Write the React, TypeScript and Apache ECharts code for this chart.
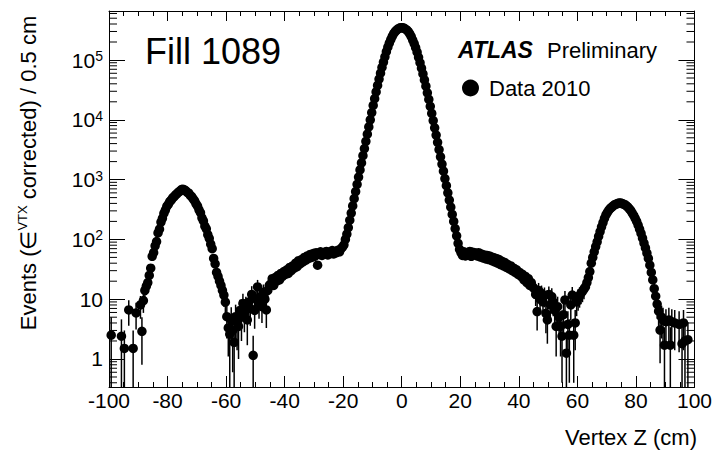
import React, { useEffect, useRef } from 'react';
import * as echarts from 'echarts';

const FONT = '"Liberation Sans", Arial, Helvetica, sans-serif';
const Y_MIN = 0.34;
const Y_MAX = 6.6e5;
const BIN = 0.5;

// Low-count bins: [vertex z (cm), events, error]
const leftTail: number[][] = [
  [-99.25, 2.5, 2.5], [-95.75, 2.4, 2.2], [-94.75, 1.5, 1.5], [-93.25, 6.6, 3.0],
  [-91.75, 1.5, 1.5], [-90.75, 5.9, 2.8], [-89.25, 8.0, 3.3], [-88.75, 2.9, 2.1],
  [-88.25, 9.5, 3.6], [-87.75, 14, 4.5], [-87.25, 16.5, 4.8], [-86.75, 19, 5.2],
];

// Smooth bins, 0.5 cm apart, starting at the given z
const leftPeakStart = -86.25;
const leftPeak = [
  25, 33, 52, 60, 78, 92, 128, 148, 195, 225,
  272, 310, 358, 385, 430, 452, 495, 520, 555, 585,
  620, 642, 680, 692, 672, 650, 612, 592, 545, 518,
  475, 440, 392, 360, 312, 279, 230, 204, 166, 150,
  120, 104, 83, 70, 48, 39, 28, 24, 20,
];

const leftDip: number[][] = [
  [-61.75, 17, 5.0], [-61.25, 14, 4.5], [-60.75, 11.7, 4.2], [-60.25, 8.9, 3.7],
  [-59.75, 5.1, 2.9], [-59.25, 3.3, 2.2], [-58.75, 2.6, 2.3], [-58.25, 4.5, 2.8],
  [-57.75, 3.0, 2.4], [-57.25, 1.9, 1.7], [-56.75, 5.1, 3.0], [-56.25, 4.0, 2.6],
  [-55.75, 3.5, 2.5], [-55.25, 6.5, 3.3], [-54.75, 5.0, 3.0], [-54.25, 8.5, 3.8],
  [-53.75, 6.0, 3.2], [-53.25, 7.5, 3.5], [-52.75, 4.5, 2.8], [-52.25, 9.0, 3.9],
  [-51.75, 7.0, 3.4], [-51.25, 12, 4.5], [-50.75, 1.15, 1.3], [-50.25, 6.5, 3.3],
  [-49.75, 10, 4.1], [-49.25, 16, 5.0], [-48.75, 8.5, 3.8], [-48.25, 11, 4.3],
  [-47.75, 7.5, 3.5], [-47.25, 13, 4.6], [-46.75, 10, 4.0], [-46.25, 6.6, 3.3],
  [-45.75, 14, 4.8], [-45.25, 17, 5.0],
];

const leftShoulderStart = -44.75;
const leftShoulder = [
  18, 22, 17, 23, 20, 25, 21, 27, 24, 29,
  26, 31, 27, 34, 30, 36, 33, 40, 35, 44,
  39, 46, 42, 50, 45, 53, 48, 56, 50, 58,
  52, 60, 37, 56, 62, 54, 60, 57, 63, 55,
  61, 58, 65, 57, 63, 60, 66, 62, 70, 74,
];

const coreStart = -19.75;
const core = [
  81, 100, 123, 158, 209, 275, 363, 479, 631, 832,
  1100, 1450, 1900, 2510, 3310, 4370, 5750, 7590, 10000, 13200,
  17400, 22600, 29200, 37600, 47900, 60300, 75000, 92300, 113000, 138000,
  164000, 191000, 219000, 248000, 275000, 299000, 316000, 331000, 343000, 347000,
  346000, 342000, 330000, 315000, 297000, 273000, 246000, 216000, 188000, 161000,
  135000, 111000, 90000, 73000, 58600, 46500, 36500, 28300, 21900, 16800,
  12800, 9700, 7350, 5550, 4200, 3180, 2400, 1820, 1380, 1040,
  790, 600, 455, 345, 262, 200, 152, 115, 86, 68,
];

const rightShoulderStart = 20.25;
const rightShoulder = [
  60, 54, 62, 53, 60, 55, 63, 52, 61, 56,
  59, 53, 60, 51, 57, 49, 55, 47, 54, 46,
  52, 44, 50, 42, 48, 40, 46, 38, 43, 36,
  41, 34, 38, 32, 36, 30, 33, 28, 31, 26,
  28, 24, 26, 21, 24, 19, 22, 17, 19, 16,
];

const rightDip: number[][] = [
  [45.25, 15, 4.8], [45.75, 12, 4.3], [46.25, 6.2, 3.2], [46.75, 14, 4.7],
  [47.25, 10, 4.0], [47.75, 12.5, 4.4], [48.25, 9, 3.8], [48.75, 11.5, 4.2],
  [49.25, 5.8, 3.1], [49.75, 4.5, 2.7], [50.25, 12, 4.3], [50.75, 8, 3.6],
  [51.25, 11, 4.2], [51.75, 9, 3.8], [52.25, 6.5, 3.2], [52.75, 3.5, 2.4],
  [53.25, 7.5, 3.5], [53.75, 5.0, 2.9], [54.25, 3.5, 2.4], [54.75, 2.4, 2.0],
  [55.25, 5.5, 3.0], [55.75, 9.7, 4.0], [56.25, 1.25, 1.3], [56.75, 3.8, 2.5],
  [57.25, 2.5, 2.1], [57.75, 8, 3.6], [58.25, 11.7, 4.3], [58.75, 2.5, 2.1],
  [59.25, 4.0, 2.6], [59.75, 9.0, 3.8], [60.25, 10.5, 4.1], [60.75, 11.5, 4.3],
  [61.25, 12.6, 4.4], [61.75, 13.5, 4.6], [62.25, 14.8, 4.8],
];

const rightPeakStart = 62.75;
const rightPeak = [
  16, 19, 23, 29, 40, 50, 62, 76, 91, 112,
  135, 162, 191, 224, 257, 282, 309, 331, 347, 363,
  380, 389, 398, 407, 407, 398, 389, 380, 363, 347,
  324, 302, 275, 251, 224, 200, 174, 148, 126, 105,
  87, 72, 59, 48, 37, 28, 21,
];

const rightTail: number[][] = [
  [86.25, 15, 4.8], [86.75, 11.2, 4.2], [87.25, 8.3, 3.6], [87.75, 6.3, 3.2],
  [88.25, 3.05, 2.2], [88.75, 5.0, 2.8], [89.25, 4.5, 2.7], [89.75, 1.7, 1.7],
  [90.25, 4.2, 2.6], [91.25, 4.5, 2.7], [91.75, 1.7, 1.7], [92.25, 4.2, 2.6],
  [93.25, 4.0, 2.6], [94.75, 3.8, 2.5], [95.75, 1.8, 1.8], [96.25, 4.0, 2.6],
  [96.75, 2.0, 1.9], [97.75, 2.1, 2.0],
];

const seq = (start: number, vals: number[]) => vals.map((v, i) => [start + i * BIN, v]);

export default function App() {
  const ref = useRef<HTMLDivElement>(null);

  useEffect(() => {
    if (!ref.current) return;
    const chart = echarts.init(ref.current, undefined, { renderer: 'svg' });

    const lowBins = [...leftTail, ...leftDip, ...rightDip, ...rightTail];
    const scatterData = [
      ...seq(leftPeakStart, leftPeak),
      ...seq(leftShoulderStart, leftShoulder),
      ...seq(coreStart, core),
      ...seq(rightShoulderStart, rightShoulder),
      ...seq(rightPeakStart, rightPeak),
      ...lowBins.map(([z, v]) => [z, v]),
    ];
    const errData = lowBins.map(([z, v, e]) => [z, Math.max(v - e, Y_MIN), v + e]);

    const minorTickValues: number[][] = [];
    for (let p = -1; p <= 5; p++) {
      for (let m = 2; m <= 9; m++) {
        const v = m * Math.pow(10, p);
        if (v > Y_MIN && v < Y_MAX) minorTickValues.push([0, v]);
      }
    }

    const black = '#000';
    const xAxisCommon = {
      type: 'value',
      min: -100,
      max: 100,
      interval: 20,
      axisLine: { show: true, onZero: false, lineStyle: { color: black, width: 1 } },
      splitLine: { show: false },
      minorSplitLine: { show: false },
    };
    const yAxisCommon = {
      type: 'log',
      logBase: 10,
      min: Y_MIN,
      max: Y_MAX,
      axisLine: { show: true, onZero: false, lineStyle: { color: black, width: 1 } },
      axisTick: { show: true, inside: true, length: 16, lineStyle: { color: black } },
      splitLine: { show: false },
    };

    chart.setOption({
      animation: false,
      backgroundColor: '#fff',
      grid: { left: 109, right: 18, top: 11, bottom: 64 },
      legend: {
        data: ['Data 2010'],
        left: 462,
        top: 77,
        padding: 0,
        icon: 'circle',
        itemWidth: 17,
        itemHeight: 17,
        selectedMode: false,
        itemStyle: { color: black, opacity: 1 },
        textStyle: { fontSize: 22, fontFamily: FONT, color: black, padding: [0, 0, 0, 5] },
      },
      xAxis: [
        {
          ...xAxisCommon,
          position: 'bottom',
          axisTick: { show: true, inside: true, length: 11, lineStyle: { color: black } },
          minorTick: { show: true, splitNumber: 4, length: 5, lineStyle: { color: black } },
          axisLabel: { margin: 3, fontSize: 21, fontFamily: FONT, color: black },
        },
        {
          ...xAxisCommon,
          position: 'top',
          axisTick: { show: true, inside: true, length: 10, lineStyle: { color: black } },
          minorTick: { show: true, splitNumber: 4, length: 5, lineStyle: { color: black } },
          axisLabel: { show: false },
        },
      ],
      yAxis: [
        {
          ...yAxisCommon,
          position: 'left',
          axisLabel: {
            margin: 6,
            formatter: (v: number) => {
              const l = Math.log10(v);
              const p = Math.round(l);
              if (Math.abs(l - p) > 1e-6) return '';
              if (p === 0) return '{b|1}';
              if (p === 1) return '{b|10}';
              return `{b|10}{s|${p}}`;
            },
            rich: {
              b: { fontSize: 21, fontFamily: FONT, color: black, lineHeight: 22 },
              s: { fontSize: 14, fontFamily: FONT, color: black, lineHeight: 14, verticalAlign: 'top' },
            },
          },
        },
        {
          ...yAxisCommon,
          position: 'right',
          axisLabel: { show: false },
        },
      ],
      series: [
        {
          type: 'custom',
          name: 'minor ticks',
          silent: true,
          z: 1,
          data: minorTickValues,
          renderItem: (params: any, api: any) => {
            const y = api.coord([0, api.value(1)])[1];
            const cs = params.coordSys;
            return {
              type: 'group',
              children: [
                { type: 'line', shape: { x1: cs.x, y1: y, x2: cs.x + 8, y2: y }, style: { stroke: black, lineWidth: 1 } },
                { type: 'line', shape: { x1: cs.x + cs.width - 8, y1: y, x2: cs.x + cs.width, y2: y }, style: { stroke: black, lineWidth: 1 } },
              ],
            };
          },
        },
        {
          type: 'custom',
          name: 'errors',
          silent: true,
          z: 2,
          data: errData,
          encode: { x: 0, y: [1, 2] },
          renderItem: (params: any, api: any) => {
            const z = api.value(0);
            const p0 = api.coord([z, api.value(1)]);
            const p1 = api.coord([z, api.value(2)]);
            return {
              type: 'line',
              shape: { x1: p0[0], y1: p0[1], x2: p1[0], y2: p1[1] },
              style: { stroke: black, lineWidth: 1.5 },
            };
          },
        },
        {
          type: 'scatter',
          name: 'Data 2010',
          z: 3,
          symbol: 'circle',
          symbolSize: 9.5,
          itemStyle: { color: black, opacity: 1 },
          emphasis: { disabled: true },
          data: scatterData,
        },
      ],
      graphic: [
        {
          type: 'text',
          x: 145,
          y: 51,
          style: { text: 'Fill 1089', fontSize: 36, fontFamily: FONT, fill: black, align: 'left', verticalAlign: 'middle' },
        },
        {
          type: 'text',
          x: 458,
          y: 50,
          style: { text: 'ATLAS', fontSize: 23, fontWeight: 'bold', fontStyle: 'italic', fontFamily: FONT, fill: black, align: 'left', verticalAlign: 'middle' },
        },
        {
          type: 'text',
          x: 547,
          y: 50,
          style: { text: 'Preliminary', fontSize: 22, fontFamily: FONT, fill: black, align: 'left', verticalAlign: 'middle' },
        },
        {
          type: 'text',
          x: 697,
          y: 437,
          style: { text: 'Vertex Z (cm)', fontSize: 22, fontFamily: FONT, fill: black, align: 'right', verticalAlign: 'middle' },
        },
        {
          type: 'text',
          x: 28,
          y: 173,
          rotation: Math.PI / 2,
          style: {
            text: '{a|Events (\u2208}{s|VTX}{a| corrected) / 0.5 cm}',
            align: 'center',
            verticalAlign: 'middle',
            fill: black,
            rich: {
              a: { fontSize: 22, fontFamily: FONT, fill: black, lineHeight: 24 },
              s: { fontSize: 13, fontFamily: FONT, fill: black, lineHeight: 13, verticalAlign: 'top' },
            },
          },
        },
      ],
    });

    return () => chart.dispose();
  }, []);

  return <div ref={ref} style={{ position: 'absolute', left: 0, top: 0, width: 715, height: 451 }} />;
}
